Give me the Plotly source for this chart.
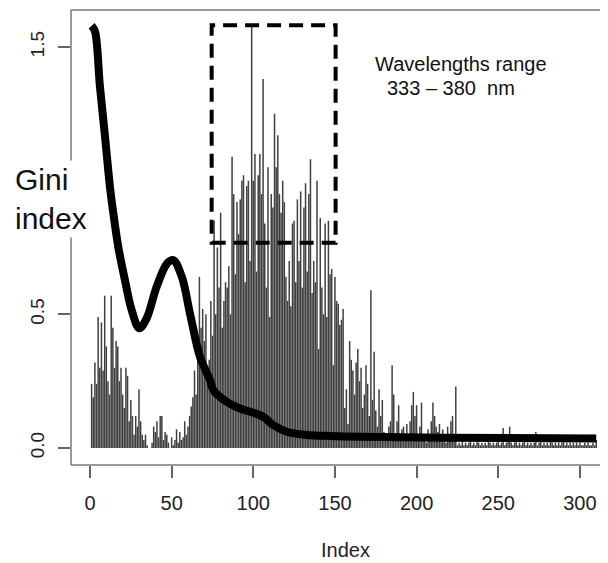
import plotly.graph_objects as go

# ---- data ----
gini_1_66 = [0.24, 0.19, 0.32, 0.24, 0.49, 0.30, 0.47, 0.29, 0.57, 0.38,
             0.25, 0.20, 0.57, 0.45, 0.30, 0.40, 0.38, 0.25, 0.30, 0.20,
             0.15, 0.30, 0.27, 0.10, 0.18, 0.12, 0.05, 0.12, 0.08, 0.22,
             0.10, 0.05, 0.03, 0.05, 0.01, 0.00, 0.00, 0.02, 0.08, 0.06,
             0.10, 0.04, 0.12, 0.12, 0.03, 0.06, 0.05, 0.02, 0.00, 0.04,
             0.01, 0.03, 0.07, 0.02, 0.06, 0.03, 0.04, 0.10, 0.05, 0.08,
             0.12, 0.155, 0.19, 0.29, 0.20, 0.38]
gini_67_160 = [0.64, 0.45, 0.52, 0.40, 0.50, 0.30, 0.33, 0.55, 0.42, 0.85,
               0.50, 0.75, 0.60, 0.88, 0.45, 0.55, 0.62, 0.60, 0.68, 0.50,
               1.09, 0.95, 0.65, 0.92, 0.80, 0.93, 1.00, 1.02, 0.62, 0.98,
               1.00, 0.70, 1.58, 1.00, 1.10, 0.66, 1.02, 1.10, 0.95, 1.38,
               0.84, 0.60, 1.05, 0.49, 0.95, 0.90, 1.25, 1.05, 1.17, 0.95,
               0.88, 1.00, 0.92, 0.64, 0.55, 0.70, 0.53, 0.84, 0.85, 0.62,
               0.93, 0.70, 0.96, 0.60, 0.90, 0.99, 0.66, 0.95, 1.08, 0.58,
               0.70, 0.62, 1.00, 0.37, 0.86, 0.60, 0.50, 0.84, 0.49, 0.85,
               0.65, 0.67, 0.31, 0.64, 0.55, 0.54, 0.46, 0.48, 0.52, 0.15,
               0.22, 0.09, 0.40, 0.33]
gini_161_225 = [0.29, 0.20, 0.32, 0.37, 0.25, 0.30, 0.15, 0.20, 0.31, 0.24,
                0.12, 0.59, 0.18, 0.36, 0.14, 0.08, 0.22, 0.12, 0.18, 0.06,
                0.03, 0.05, 0.08, 0.10, 0.31, 0.20, 0.05, 0.10, 0.16, 0.04,
                0.07, 0.08, 0.03, 0.09, 0.05, 0.10, 0.16, 0.21, 0.12, 0.16,
                0.05, 0.08, 0.17, 0.03, 0.04, 0.02, 0.07, 0.04, 0.10, 0.17,
                0.12, 0.08, 0.06, 0.09, 0.03, 0.07, 0.05, 0.02, 0.08, 0.05,
                0.10, 0.12, 0.03, 0.23, 0.01]
gini_226_310 = [0.02, 0.01, 0.03, 0.01, 0.02, 0.01, 0.02, 0.03, 0.01, 0.02,
                0.01, 0.03, 0.02, 0.01, 0.02, 0.01, 0.02, 0.01, 0.03, 0.02,
                0.01, 0.02, 0.01, 0.02, 0.03, 0.01, 0.02, 0.075, 0.01, 0.02,
                0.03, 0.08, 0.02, 0.01, 0.02, 0.03, 0.01, 0.02, 0.01, 0.02,
                0.03, 0.01, 0.02, 0.01, 0.02, 0.01, 0.02, 0.06, 0.01, 0.02,
                0.03, 0.01, 0.02, 0.01, 0.02, 0.01, 0.03, 0.02, 0.01, 0.02,
                0.01, 0.02, 0.01, 0.02, 0.03, 0.01, 0.02, 0.01, 0.02, 0.01,
                0.02, 0.01, 0.02, 0.01, 0.02, 0.01, 0.01, 0.02, 0.01, 0.02,
                0.01, 0.01, 0.02, 0.01, 0.03]
gini_values = gini_1_66 + gini_67_160 + gini_161_225 + gini_226_310
index_values = list(range(1, len(gini_values) + 1))

curve_x = [1, 3, 6.1, 9.2, 12.2, 14.3, 17.3, 21.4, 25.5, 30.2, 34.7, 40.8,
           47.3, 51, 56.2, 61.2, 67.4, 73.5, 75.5, 83.7, 91.9, 100, 106.1,
           112.2, 120.5, 132.7, 147, 165.3, 220, 310]
curve_y = [1.58, 1.56, 1.352, 1.165, 0.978, 0.878, 0.753, 0.628, 0.516,
           0.448, 0.485, 0.603, 0.691, 0.703, 0.641, 0.504, 0.34, 0.254,
           0.217, 0.173, 0.148, 0.132, 0.117, 0.086, 0.061, 0.049, 0.045,
           0.042, 0.038, 0.036]

box_x = [74.5, 150.4]
box_y = [0.768, 1.582]

x_ticks = [0, 50, 100, 150, 200, 250, 300]
y_ticks = [0.0, 0.5, 1.0, 1.5]
y_tick_text = ["0.0", "0.5", "1.0", "1.5"]

FONT = "Liberation Sans, Arial, sans-serif"

# vertical "histogram-like" lines (R type="h"): one segment per index
seg_x, seg_y = [], []
for i, v in zip(index_values, gini_values):
    seg_x += [i, i, None]
    seg_y += [0, v, None]

fig = go.Figure()
fig.add_trace(go.Scatter(x=seg_x, y=seg_y, mode="lines",
                         line=dict(color="#404040", width=1.5),
                         connectgaps=False, showlegend=False))
fig.add_trace(go.Scatter(x=curve_x, y=curve_y, mode="lines",
                         line=dict(color="black", width=8, shape="spline",
                                   smoothing=1.0),
                         showlegend=False))

# box (right side falls outside the visible window, as in the reference)
for (x0, y0, x1, y1) in [(0, 0, 0, 1), (0, 0, 1, 0), (0, 1, 1, 1)]:
    fig.add_shape(type="line", xref="paper", yref="paper", x0=x0, y0=y0,
                  x1=x1, y1=y1, line=dict(color="#777777", width=1.5))

fig.add_shape(type="rect", xref="x", yref="y", x0=box_x[0], x1=box_x[1],
              y0=box_y[0], y1=box_y[1],
              line=dict(color="black", width=4, dash="14px,8px"))

fig.add_annotation(x=173.3, y=1.437, xref="x", yref="y", xanchor="left",
                   yanchor="middle", showarrow=False,
                   text="Wavelengths range",
                   font=dict(family=FONT, size=20, color="#111"))
fig.add_annotation(x=180.6, y=1.347, xref="x", yref="y", xanchor="left",
                   yanchor="middle", showarrow=False,
                   text="333 \u2013 380  nm",
                   font=dict(family=FONT, size=20, color="#111"))

fig.add_annotation(x=-0.108, y=0.585, xref="paper", yref="paper",
                   xanchor="left", yanchor="middle", showarrow=False,
                   align="left", text="Gini<br>index", bgcolor="white",
                   borderpad=2,
                   font=dict(family=FONT, size=30, color="#111"))

fig.add_annotation(x=0.503, y=-0.187, xref="paper", yref="paper",
                   xanchor="center", yanchor="middle", showarrow=False,
                   text="Index", font=dict(family=FONT, size=20, color="#222"))

fig.update_layout(
    width=608, height=563,
    margin=dict(l=63, r=0, t=2, b=106, autoexpand=False),
    paper_bgcolor="white", plot_bgcolor="white",
    xaxis=dict(range=[-11.63, 322.1], tickvals=x_ticks,
               ticks="outside", ticklen=12, tickwidth=1.5,
               tickcolor="#666666", showgrid=False, zeroline=False,
               showline=False, ticklabelstandoff=8,
               tickfont=dict(family=FONT, size=20, color="#222")),
    yaxis=dict(range=[-0.0636, 1.6386], tickvals=y_ticks,
               ticktext=y_tick_text, tickangle=-90,
               ticks="outside", ticklen=12, tickwidth=1.5,
               tickcolor="#666666", showgrid=False, zeroline=False,
               showline=False, ticklabelstandoff=6,
               tickfont=dict(family=FONT, size=19, color="#222")),
)

fig.write_html("out.html")
